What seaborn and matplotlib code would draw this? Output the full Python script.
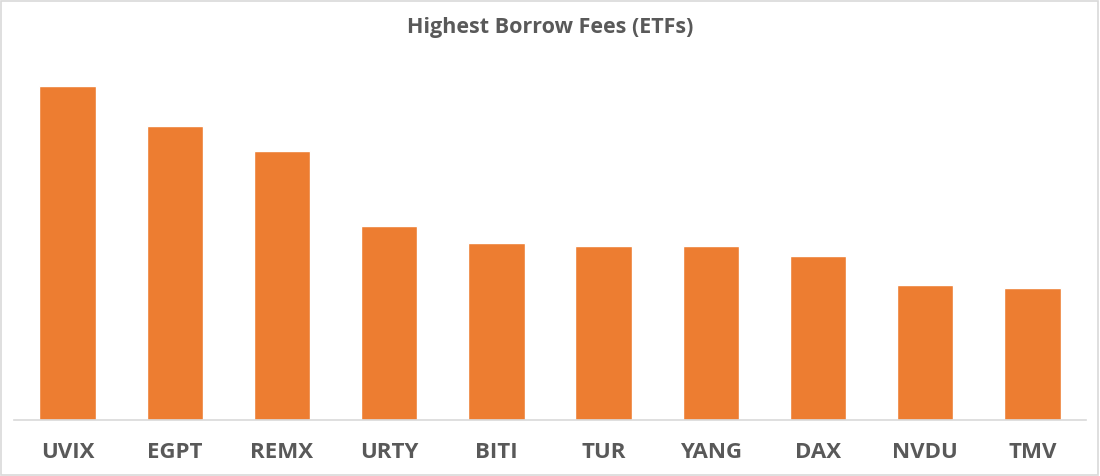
import matplotlib
matplotlib.use("Agg")
import matplotlib.pyplot as plt
import seaborn as sns
import pandas as pd
from matplotlib.patches import Rectangle

tickers = ["UVIX", "EGPT", "REMX", "URTY", "BITI", "TUR", "YANG", "DAX", "NVDU", "TMV"]
fees = [334.0, 294.0, 269.0, 194.0, 177.5, 174.0, 174.0, 164.5, 135.0, 132.5]

df = pd.DataFrame({"ticker": tickers, "fee": fees})

sns.set_theme(style="white")
plt.rcParams["font.family"] = ["Open Sans", "DejaVu Sans"]

fig = plt.figure(figsize=(11, 4.76), dpi=100)
ax = fig.add_axes([14 / 1100, 1 - 420 / 476, (1086 - 14) / 1100, 360 / 476])
sns.barplot(data=df, x="ticker", y="fee", color="#ED7D31", saturation=1, width=0.525, ax=ax)
ax.set_xlim(-0.5, len(tickers) - 0.5)
ax.set_ylim(0, 360)
ax.set_xlabel("")
ax.set_ylabel("")
ax.set_yticks([])
for s in ["top", "right", "left"]:
    ax.spines[s].set_visible(False)
ax.spines["bottom"].set_color("#D9D9D9")
ax.spines["bottom"].set_linewidth(1.2)
ax.tick_params(axis="x", length=0, pad=16, labelsize=16, labelcolor="#595959")
for lab in ax.get_xticklabels():
    lab.set_fontweight("bold")

fig.text(0.5, 1 - 27 / 476, "Highest Borrow Fees (ETFs)", ha="center", va="center",
         fontsize=15.5, fontweight="bold", color="#595959")
fig.patches.append(Rectangle((0.001, 0.002), 0.997, 0.995, transform=fig.transFigure,
                             fill=False, edgecolor="#D9D9D9", linewidth=1.2))
fig.savefig("out.png", dpi=100)
